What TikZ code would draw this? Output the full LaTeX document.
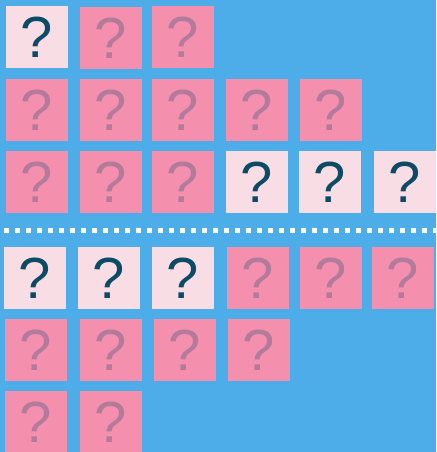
\documentclass[tikz,border=0pt]{standalone}
\usepackage{fontspec}
\setmainfont{Liberation Sans}
\usepackage{tikz}

\definecolor{skyblue}{HTML}{4DADE8}
\definecolor{cardpink}{HTML}{F48FAD}
\definecolor{cardlight}{HTML}{F9DDE5}
\definecolor{markdark}{HTML}{0B4B66}
\definecolor{markfaded}{HTML}{B27A9B}

\tikzset{
  card/.style={minimum size=62pt,inner sep=0pt,outer sep=0pt,
    font=\fontsize{58}{58}\selectfont},
  hidden/.style={card,fill=cardpink,text=markfaded},
  shown/.style={card,fill=cardlight,text=markdark},
}

\begin{document}
\begin{tikzpicture}[x=1pt,y=-1pt]
  \fill[skyblue] (0,0) rectangle (436,452);
  \useasboundingbox (0,0) rectangle (436,452);
  % upper grid
  \foreach \x/\y/\s [count=\i] in {37/37/shown,111/38/hidden,183/37/hidden,
      37/110/hidden,111/110/hidden,183/110/hidden,257/110/hidden,331/110/hidden,
      37/182/hidden,111/182/hidden,183/182/hidden,257/182/shown,330/182/shown,405/182/shown}
    \node[\s] (up\i) at (\x,\y) {?};
  % divider
  \draw[white,line width=4.7pt,dash pattern=on 4.7pt off 6.3pt] (4,230.7) -- (436,230.7);
  % lower grid
  \foreach \x/\y/\s [count=\i] in {35/278/shown,109/278/shown,183/278/shown,258/278/hidden,331/278/hidden,403/278/hidden,
      36/350/hidden,111/350/hidden,185/350/hidden,259/350/hidden,
      36/422/hidden,111/422/hidden}
    \node[\s] (lo\i) at (\x,\y) {?};
\end{tikzpicture}
\end{document}
